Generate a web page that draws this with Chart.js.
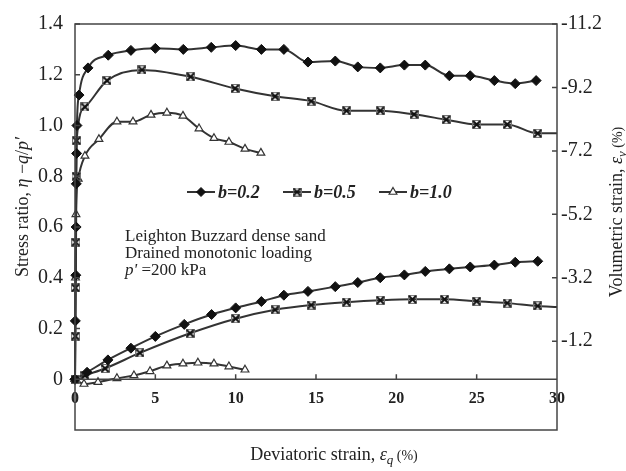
<!DOCTYPE html>
<html>
<head>
<meta charset="utf-8">
<script src="https://cdn.jsdelivr.net/npm/chart.js@4.4.1/dist/chart.umd.min.js"></script>
<style>
  html, body { margin: 0; padding: 0; background: #fff; }
</style>
</head>
<body>
<canvas id="chart" width="626" height="471"></canvas>
<script>
// stress ratio curves (left axis)
const strain02 = [0, 0.02, 0.05, 0.07, 0.08, 0.1, 0.12, 0.25, 0.81, 2.07, 3.48, 5.0, 6.74, 8.48, 10.0, 11.6, 13.0, 14.5, 16.2, 17.6, 19.0, 20.5, 21.8, 23.3, 24.6, 26.1, 27.4, 28.7];
const eta02 = [0, 0.23, 0.41, 0.60, 0.77, 0.89, 1.0, 1.12, 1.227, 1.277, 1.296, 1.304, 1.30, 1.308, 1.315, 1.30, 1.30, 1.25, 1.254, 1.231, 1.227, 1.238, 1.238, 1.196, 1.196, 1.177, 1.165, 1.177];

const strain05 = [0, 0.02, 0.03, 0.05, 0.07, 0.1, 0.62, 1.99, 4.17, 7.2, 9.96, 12.45, 14.7, 16.9, 19.0, 21.1, 23.1, 25.0, 26.9, 28.8, 30];
const eta05 = [0, 0.17, 0.36, 0.54, 0.80, 0.94, 1.073, 1.177, 1.219, 1.192, 1.146, 1.115, 1.096, 1.058, 1.058, 1.044, 1.023, 1.004, 1.004, 0.969, 0.969];

const strain10 = [0, 0.03, 0.06, 0.2, 0.62, 1.49, 2.61, 3.61, 4.73, 5.72, 6.72, 7.72, 8.65, 9.58, 10.58, 11.57];
const eta10 = [0, 0.4, 0.65, 0.79, 0.88, 0.946, 1.015, 1.015, 1.042, 1.05, 1.038, 0.988, 0.95, 0.935, 0.908, 0.892];

// volumetric strain curves (right axis)
const volStrain02 = [0, 0.75, 2.05, 3.48, 5.0, 6.8, 8.5, 10.0, 11.6, 13.0, 14.5, 16.2, 17.6, 19.0, 20.5, 21.8, 23.3, 24.6, 26.1, 27.4, 28.8];
const vol02 = [0, -0.22, -0.61, -0.98, -1.35, -1.73, -2.04, -2.25, -2.45, -2.65, -2.77, -2.92, -3.05, -3.2, -3.29, -3.4, -3.48, -3.54, -3.6, -3.69, -3.72];

const volStrain05 = [0, 0.62, 1.87, 4.04, 7.16, 10.0, 12.45, 14.7, 16.9, 19.0, 21.0, 23.0, 25.0, 26.9, 28.8, 30];
const vol05 = [0, -0.12, -0.34, -0.83, -1.45, -1.91, -2.19, -2.34, -2.43, -2.49, -2.52, -2.52, -2.46, -2.4, -2.31, -2.28];

const volStrain10 = [0, 0.56, 1.43, 2.61, 3.67, 4.67, 5.72, 6.72, 7.65, 8.65, 9.58, 10.58];
const vol10 = [0, 0.15, 0.09, -0.03, -0.12, -0.25, -0.43, -0.49, -0.52, -0.49, -0.4, -0.3];

const seriesLabels = ["b=0.2", "b=0.5", "b=1.0"];
const xTicks = [0, 5, 10, 15, 20, 25, 30];
const volTicks = [-11.2, -9.2, -7.2, -5.2, -3.2, -1.2];

const SERIF = '"Liberation Serif", "Times New Roman", serif';
const LINE = "#333";

const pts = (xs, ys) => xs.map((x, i) => ({ x: x, y: ys[i] }));

// box-with-x marker for b=0.5
const boxX = document.createElement("canvas");
boxX.width = 9; boxX.height = 9;
(function () {
  const c = boxX.getContext("2d");
  c.strokeStyle = "#777";
  c.lineWidth = 1;
  c.strokeRect(0.5, 0.5, 8, 8);
  c.strokeStyle = "#111";
  c.lineWidth = 2;
  c.beginPath();
  c.moveTo(1, 1); c.lineTo(8, 8);
  c.moveTo(8, 1); c.lineTo(1, 8);
  c.stroke();
})();

const markers = [
  { pointStyle: "rectRot", pointRadius: 5, pointBackgroundColor: "#111", pointBorderColor: "#111", pointBorderWidth: 1 },
  { pointStyle: boxX, pointRadius: 4.5, pointBackgroundColor: "#222", pointBorderColor: "#222", pointBorderWidth: 1 },
  { pointStyle: "triangle", pointRadius: 4.5, pointBackgroundColor: "#fff", pointBorderColor: "#333", pointBorderWidth: 1.2 }
];

function makeSet(label, data, axis, mk, hideLast) {
  return Object.assign({
    label: label,
    data: data,
    yAxisID: axis,
    borderColor: LINE,
    borderWidth: 2,
    cubicInterpolationMode: "monotone",
    clip: false,
    showLine: true
  }, mk, hideLast ? { pointRadius: (c) => c.dataIndex === data.length - 1 ? 0 : mk.pointRadius } : {});
}

const datasets = [
  makeSet(seriesLabels[0], pts(strain02, eta02), "y", markers[0], false),
  makeSet(seriesLabels[1], pts(strain05, eta05), "y", markers[1], true),
  makeSet(seriesLabels[2], pts(strain10, eta10), "y", markers[2], false),
  makeSet(seriesLabels[0] + " vol", pts(volStrain02, vol02), "y2", markers[0], false),
  makeSet(seriesLabels[1] + " vol", pts(volStrain05, vol05), "y2", markers[1], true),
  makeSet(seriesLabels[2] + " vol", pts(volStrain10, vol10), "y2", markers[2], false)
];

// mixed-style text helper
function drawRich(ctx, parts, x, y) {
  let total = 0;
  parts.forEach(p => { ctx.font = p.font; p.w = ctx.measureText(p.t).width; total += p.w; });
  let cx = x - total / 2;
  parts.forEach(p => { ctx.font = p.font; ctx.fillText(p.t, cx, y + (p.dy || 0)); cx += p.w; });
}

const decor = {
  id: "decor",
  afterDraw(chart) {
    const ctx = chart.ctx;
    const a = chart.chartArea;
    const sx = chart.scales.x, sy = chart.scales.y, sy2 = chart.scales.y2;
    const y0 = sy.getPixelForValue(0);
    ctx.save();
    ctx.strokeStyle = "#444";
    ctx.lineWidth = 1.5;
    ctx.strokeRect(a.left, a.top, a.right - a.left, a.bottom - a.top);
    ctx.beginPath();
    ctx.moveTo(a.left, y0); ctx.lineTo(a.right, y0);
    // inward tick marks
    sy.ticks.forEach(t => {
      if (t.value <= 0.001) return;
      const p = sy.getPixelForValue(t.value);
      ctx.moveTo(a.left, p); ctx.lineTo(a.left + 5, p);
    });
    sy2.ticks.forEach(t => {
      const p = sy2.getPixelForValue(t.value);
      ctx.moveTo(a.right, p); ctx.lineTo(a.right - 5, p);
    });
    sx.ticks.forEach(t => {
      if (t.value <= 0 || t.value >= 30) return;
      const p = sx.getPixelForValue(t.value);
      ctx.moveTo(p, y0); ctx.lineTo(p, y0 - 5);
    });
    ctx.stroke();

    ctx.fillStyle = "#222";
    ctx.textBaseline = "alphabetic";
    const n = "18px " + SERIF, it = "italic 18px " + SERIF;
    const sub = "italic 13px " + SERIF, sm = "14px " + SERIF;

    // x title
    drawRich(ctx, [
      { t: "Deviatoric strain, ", font: n },
      { t: "ε", font: it },
      { t: "q", font: sub, dy: 4 },
      { t: " (%)", font: sm }
    ], 334, 460);

    // left title
    ctx.save();
    ctx.translate(28, 207);
    ctx.rotate(-Math.PI / 2);
    drawRich(ctx, [
      { t: "Stress ratio, ", font: n },
      { t: "η", font: it },
      { t: " −", font: n },
      { t: "q", font: it },
      { t: "/", font: n },
      { t: "p′", font: it }
    ], 0, 0);
    ctx.restore();

    // right title
    ctx.save();
    ctx.translate(622, 212);
    ctx.rotate(-Math.PI / 2);
    drawRich(ctx, [
      { t: "Volumetric strain, ", font: n },
      { t: "ε", font: it },
      { t: "v", font: sub, dy: 4 },
      { t: " (%)", font: sm }
    ], 0, 0);
    ctx.restore();

    // annotation
    ctx.textAlign = "left";
    ctx.font = "17px " + SERIF;
    ctx.fillText("Leighton Buzzard dense sand", 125, 241);
    ctx.fillText("Drained monotonic loading", 125, 258);
    ctx.font = "italic 17px " + SERIF;
    ctx.fillText("p'", 125, 275);
    const pw = ctx.measureText("p'").width;
    ctx.font = "17px " + SERIF;
    ctx.fillText(" =200 kPa", 125 + pw, 275);

    // legend
    const ly = 192;
    [187, 283, 379].forEach((x0, i) => {
      const ds = chart.data.datasets[i];
      ctx.strokeStyle = LINE;
      ctx.lineWidth = 2;
      ctx.beginPath();
      ctx.moveTo(x0, ly); ctx.lineTo(x0 + 28, ly);
      ctx.stroke();
      ctx.fillStyle = ds.pointBackgroundColor;
      ctx.strokeStyle = ds.pointBorderColor;
      ctx.lineWidth = ds.pointBorderWidth;
      Chart.helpers.drawPoint(ctx, { pointStyle: ds.pointStyle, radius: 4.5, rotation: 0, borderWidth: ds.pointBorderWidth }, x0 + 14, ly);
      ctx.fillStyle = "#222";
      ctx.font = "italic bold 18px " + SERIF;
      ctx.textBaseline = "middle";
      ctx.fillText(ds.label, x0 + 31, ly + 1);
    });
    ctx.restore();
  }
};

new Chart(document.getElementById("chart"), {
  type: "scatter",
  data: { datasets: datasets },
  options: {
    responsive: false,
    animation: false,
    layout: { padding: { top: 15, bottom: 41, left: 0, right: 0 } },
    plugins: { legend: { display: false }, tooltip: { enabled: false } },
    scales: {
      x: {
        type: "linear",
        min: 0, max: 30,
        position: { y: 0 },
        afterBuildTicks: s => { s.ticks = xTicks.map(v => ({ value: v })); },
        ticks: { color: "#222", padding: 10, maxRotation: 0, font: { family: SERIF, size: 16, weight: "bold" }, callback: v => String(v) },
        grid: { display: false, drawTicks: false },
        border: { display: false }
      },
      y: {
        position: "left",
        min: -0.2, max: 1.4,
        ticks: {
          stepSize: 0.2, color: "#222", padding: 12,
          font: { family: SERIF, size: 20 },
          callback: v => Math.abs(v) < 1e-9 ? "0" : (v < 0 ? "" : v.toFixed(1))
        },
        grid: { display: false, drawTicks: false },
        border: { display: false },
        afterFit: s => { s.width = 75; }
      },
      y2: {
        position: "right",
        min: -11.2, max: 1.6,
        reverse: true,
        afterBuildTicks: s => { s.ticks = volTicks.map(v => ({ value: v })); },
        ticks: { color: "#222", padding: 4, font: { family: SERIF, size: 20 }, callback: v => v.toFixed(1) },
        grid: { display: false, drawTicks: false },
        border: { display: false },
        afterFit: s => { s.width = 69; }
      }
    }
  },
  plugins: [decor]
});
</script>
</body>
</html>
